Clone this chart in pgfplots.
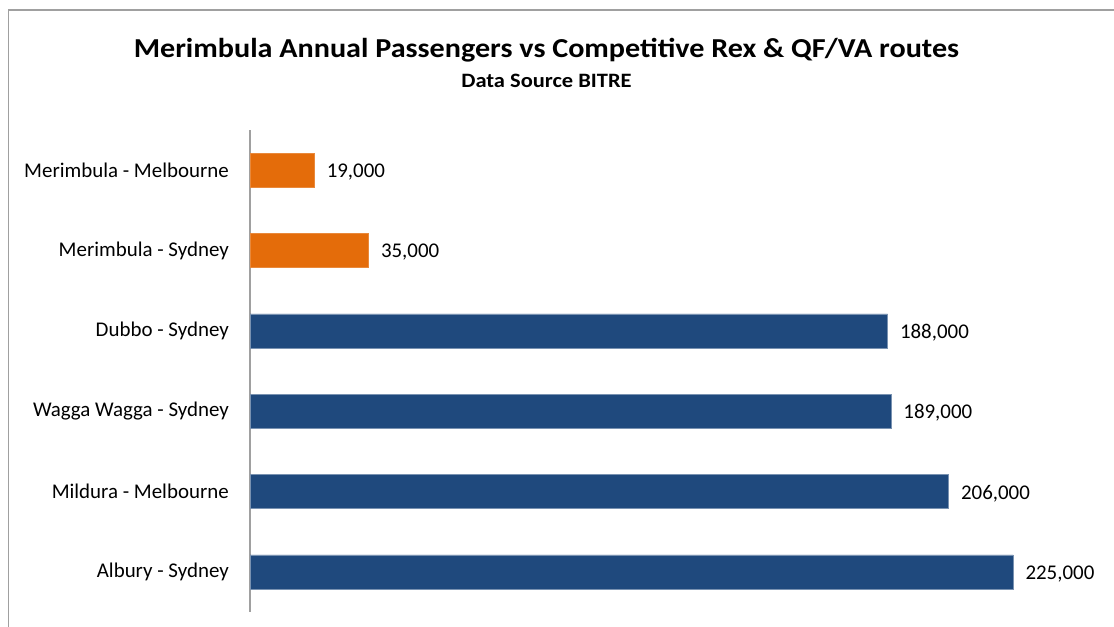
\documentclass[border=0pt]{standalone}
\usepackage{pgfplots}
\pgfplotsset{compat=1.18}
\usepackage{fontspec}
\setmainfont{Carlito}
\newfontfamily\titlefont[FakeStretch=1.1]{Carlito}
\definecolor{barorange}{HTML}{E46C0A}
\definecolor{barblue}{HTML}{1F497D}
\definecolor{framegray}{HTML}{A0A0A0}
\begin{document}
\begin{tikzpicture}[x=1bp,y=1bp]
\useasboundingbox (0,0) rectangle (1114,627);
\draw[framegray, line width=1.5bp] (8.5,0) -- (8.5,617) -- (1114,617);
\node[font=\titlefont\bfseries\fontsize{27.5}{31}\selectfont, inner sep=0pt] at (546.5,577) {Merimbula Annual Passengers vs Competitive Rex \& QF/VA routes};
\node[font=\titlefont\bfseries\fontsize{20.5}{24}\selectfont, inner sep=0pt] at (546.5,546) {Data Source BITRE};
\begin{axis}[
  at={(250bp,15bp)}, anchor=south west,
  scale only axis, width=848bp, height=482bp,
  xbar, bar shift=0pt, bar width=34bp,
  xmin=0, xmax=250000, ymin=-0.5, ymax=5.5,
  axis x line=none,
  axis y line*=left,
  axis line style={framegray, line width=1.5bp},
  y axis line style={-},
  ytick={0,1,2,3,4,5},
  yticklabels={Albury - Sydney, Mildura - Melbourne, Wagga Wagga - Sydney, Dubbo - Sydney, Merimbula - Sydney, Merimbula - Melbourne},
  major tick length=0pt,
  yticklabel style={font=\fontsize{21}{24}\selectfont, inner sep=0pt, xshift=-21bp},
  nodes near coords,
  nodes near coords style={font=\fontsize{21}{24}\selectfont, anchor=west, inner sep=0pt, xshift=12bp, yshift=-2bp, /pgf/number format/.cd, fixed, 1000 sep={,}, assume math mode=true},
  point meta=x,
  clip=false,
]
\addplot[fill=barorange, draw=barorange!80!white, line width=0.6bp] coordinates {(19000,5) (35000,4)};
\addplot[fill=barblue, draw=barblue!60!white, line width=0.6bp] coordinates {(188000,3) (189000,2) (206000,1) (225000,0)};
\end{axis}
\end{tikzpicture}
\end{document}
